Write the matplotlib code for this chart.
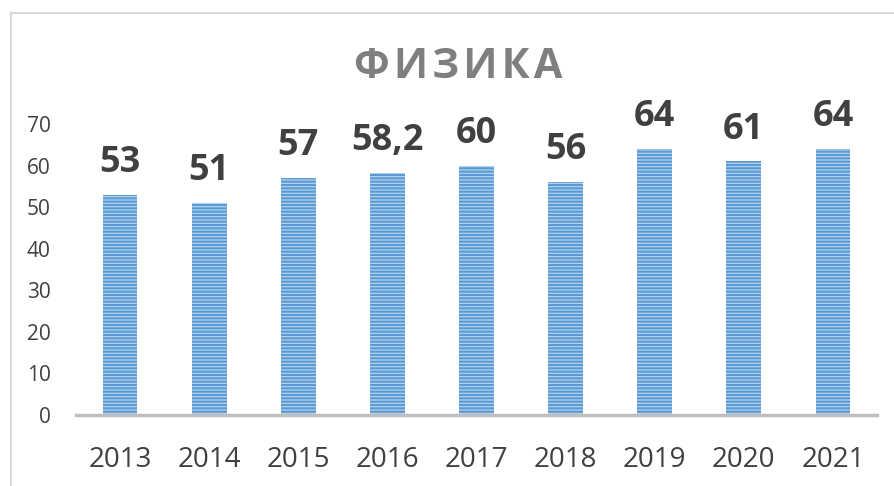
import matplotlib.pyplot as plt
from matplotlib.lines import Line2D

years = ["2013", "2014", "2015", "2016", "2017", "2018", "2019", "2020", "2021"]
scores = [53, 51, 57, 58.2, 60, 56, 64, 61, 64]
labels = ["53", "51", "57", "58,2", "60", "56", "64", "61", "64"]
title = "ФИЗИКА"

plt.rcParams['font.family'] = ['Open Sans', 'DejaVu Sans']
plt.rcParams['hatch.linewidth'] = 1.6

W, H = 895, 486
fig = plt.figure(figsize=(W / 100, H / 100), dpi=100)
ax = fig.add_axes([75.5 / W, 1 - 415 / H, 802 / W, (415 - 124) / H])

x = range(len(years))
ax.bar(x, scores, width=0.39, color='#bdd7ee', edgecolor='#5b9bd5',
       linewidth=0, hatch='-----', zorder=2)

for i, (v, lab) in enumerate(zip(scores, labels)):
    ax.annotate(lab, (i, v), xytext=(0, 10), textcoords='offset points',
                ha='center', va='bottom', fontsize=26, fontweight='bold',
                color='#404040')

ax.set_xlim(-0.5, len(years) - 0.5)
ax.set_ylim(0, 70)
ax.set_yticks(range(0, 80, 10))
ax.set_xticks(list(x))
ax.set_xticklabels(years)
ax.tick_params(axis='x', length=0, labelsize=20, colors='#404040', pad=22)
ax.tick_params(axis='y', length=0, labelsize=15, colors='#404040', pad=18)
for s in ['top', 'right', 'left']:
    ax.spines[s].set_visible(False)
ax.spines['bottom'].set_color('#bfbfbf')
ax.spines['bottom'].set_linewidth(2.5)
ax.patch.set_alpha(0)

fig.text(458 / W, 1 - 68 / H, "\u200a".join(title), ha='center', va='center',
         fontsize=30, fontweight='bold', color='#7f7f7f')

# outer chart frame
fig.add_artist(Line2D([11 / W, 11 / W], [0, 1 - 13 / H], transform=fig.transFigure,
                      color='#d9d9d9', linewidth=1.5))
fig.add_artist(Line2D([11 / W, 1], [1 - 13 / H, 1 - 13 / H], transform=fig.transFigure,
                      color='#d9d9d9', linewidth=1.5))

fig.savefig("out.png", dpi=100)
